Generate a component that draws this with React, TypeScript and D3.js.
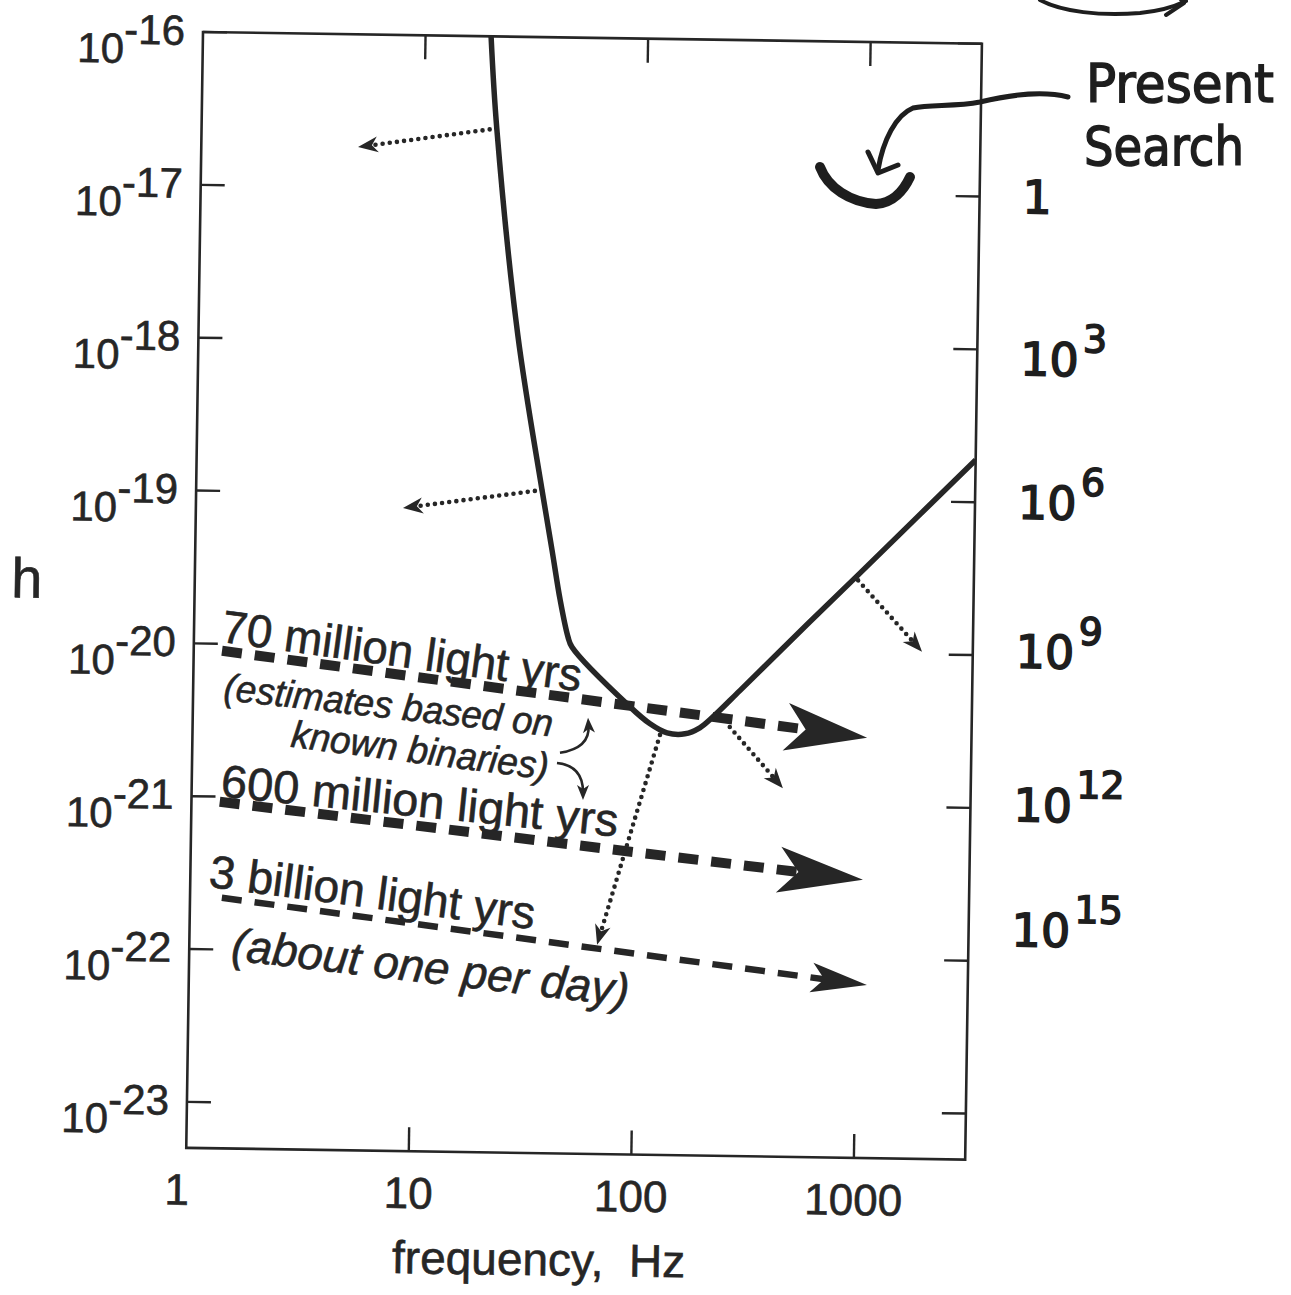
import * as d3 from "d3";
import React from "react";

// page + plot frame (scan is slightly tilted)
const W = 1291;
const H = 1295;
const plotW = 779;
const plotH = 1116;
const originX = 203;
const originY = 32;
const tilt = 0.86;

const xDomain = [1, 3162];
const yDomain = [1e-16, 5e-24];
const xTicks = [1, 10, 100, 1000];
const xTickLabels = ["1", "10", "100", "1000"];
const yTicks = [1e-16, 1e-17, 1e-18, 1e-19, 1e-20, 1e-21, 1e-22, 1e-23];
const yExponents = ["-16", "-17", "-18", "-19", "-20", "-21", "-22", "-23"];

// detector sensitivity curve
const noiseFreq = [19.7, 21.2, 27.2, 35.8, 40.1, 43.9, 47.9, 50, 92, 113.5, 135.5, 163, 190, 215, 286, 522, 955, 1738, 3162];
const noiseH = [1e-16, 2.5e-17, 1.12e-18, 1.09e-19, 4.4e-20, 2.1e-20, 1.2e-20, 1.03e-20, 4.24e-21, 3.3e-21, 2.89e-21, 2.86e-21, 3.14e-21, 3.66e-21, 5.55e-21, 1.35e-20, 3.26e-20, 7.85e-20, 1.89e-19];

// dashed source bands
const bandStartF = [1.34, 1.34, 1.39];
const bandStartH = [9.0e-21, 9.25e-22, 2.18e-22];
const bandEndF = [1074, 1052, 1114];
const bandEndH = [2.81e-21, 3.3e-22, 6.78e-23];

// dotted arrows
const dotFromF = [21.2, 35.8, 955, 259, 126];
const dotFromH = [2.5e-17, 1.09e-19, 3.0e-20, 3.2e-21, 2.8e-21];
const dotToF = [5.06, 8.52, 1870, 453, 67.9];
const dotToH = [1.83e-17, 8.05e-20, 1.04e-20, 1.29e-21, 1.17e-22];

// little curved arrows near "binaries)"
const hookF = [[44.9, 61.2, 59.7], [43.6, 57.1, 57.4]];
const hookH = [[2.09e-21, 2.26e-21, 3.56e-21], [1.79e-21, 1.73e-21, 1.03e-21]];

// printed notes
const noteText = ["70 million light yrs", "(estimates based on", "known binaries)", "600 million light yrs", "3 billion light yrs", "(about one per day)"];
const noteF = [1.31, 1.36, 2.75, 1.34, 1.2, 1.53];
const noteH = [1.03e-20, 4.3e-21, 2.15e-21, 1.0e-21, 2.57e-22, 8.57e-23];

// handwritten rate factors on the right
const rateBase = ["1", "10", "10", "10", "10", "10"];
const rateSup = ["", "3", "6", "9", "12", "15"];
const rateH = [1e-17, 8.7e-19, 1e-19, 1.06e-20, 1.05e-21, 1.6e-22];

const ink = "#262626";
const font = "'Liberation Sans', Arial, Helvetica, sans-serif";
const hand = "'DejaVu Sans', sans-serif";

type P = [number, number];

function headPath(tip: P, from: P, len: number, half: number, notch: number) {
  const a = Math.atan2(tip[1] - from[1], tip[0] - from[0]);
  const ux = Math.cos(a), uy = Math.sin(a);
  const px = -uy, py = ux;
  const bx = tip[0] - ux * len, by = tip[1] - uy * len;
  const nx = tip[0] - ux * (len - notch), ny = tip[1] - uy * (len - notch);
  return `M${tip[0]},${tip[1]}L${bx + px * half},${by + py * half}L${nx},${ny}L${bx - px * half},${by - py * half}Z`;
}

function backOff(tip: P, from: P, d: number): P {
  const a = Math.atan2(tip[1] - from[1], tip[0] - from[0]);
  return [tip[0] - Math.cos(a) * d, tip[1] - Math.sin(a) * d];
}

const App: React.FC = () => {
  const x = d3.scaleLog().domain(xDomain).range([0, plotW]);
  const y = d3.scaleLog().domain(yDomain).range([0, plotH]);

  const curve = d3
    .line<number>()
    .x((d) => x(noiseFreq[d]))
    .y((d) => y(noiseH[d]))
    .curve(d3.curveCatmullRom.alpha(0.5))(noiseFreq.map((_, i) => i));

  const bandW = [10, 10, 6.5];
  const bandHead = [
    { len: 82, half: 24, notch: 20 },
    { len: 85, half: 23, notch: 20 },
    { len: 56, half: 15, notch: 13 },
  ];

  const noteStyle = [
    { size: 46, italic: false, len: 363, rot: 7.0 },
    { size: 38, italic: true, len: 331, rot: 5.5 },
    { size: 38, italic: true, len: 259, rot: 6.4 },
    { size: 46, italic: false, len: 399, rot: 4.9 },
    { size: 46, italic: false, len: 328, rot: 6.6 },
    { size: 46, italic: true, len: 400, rot: 5.8 },
  ];

  return (
    <svg width={W} height={H} style={{ position: "absolute", left: 0, top: 0, background: "#fff" }}>
      <defs>
        <clipPath id="plot">
          <rect x={0} y={0} width={plotW} height={plotH} />
        </clipPath>
      </defs>
      <g transform={`translate(${originX},${originY}) rotate(${tilt})`} fill={ink}>
        {/* frame */}
        <rect x={0} y={0} width={plotW} height={plotH} fill="none" stroke={ink} strokeWidth={2.6} />
        {yTicks.map((t, i) => (
          <g key={"yt" + i}>
            <line x1={0} x2={24} y1={y(t)} y2={y(t)} stroke={ink} strokeWidth={2.4} />
            <line x1={plotW} x2={plotW - 24} y1={y(t)} y2={y(t)} stroke={ink} strokeWidth={2.4} />
            <text x={-18} y={y(t) + 32} textAnchor="end" fontFamily={font} fontSize={42} fill={ink} stroke={ink} strokeWidth={0.6}>
              10<tspan dy={-19}>{yExponents[i]}</tspan>
            </text>
          </g>
        ))}
        {xTicks.map((t, i) => (
          <g key={"xt" + i}>
            {i > 0 && (
              <>
                <line x1={x(t)} x2={x(t)} y1={0} y2={24} stroke={ink} strokeWidth={2.4} />
                <line x1={x(t)} x2={x(t)} y1={plotH} y2={plotH - 24} stroke={ink} strokeWidth={2.4} />
              </>
            )}
            <text x={x(t) - (i === 0 ? 9 : 0)} y={plotH + 57} textAnchor="middle" fontFamily={font} fontSize={44} fill={ink} stroke={ink} strokeWidth={0.6}>
              {xTickLabels[i]}
            </text>
          </g>
        ))}
        <text x={354} y={plotH + 122} textAnchor="middle" fontFamily={font} fontSize={46} fill={ink} stroke={ink} strokeWidth={0.6} style={{ whiteSpace: "pre" }}>
          {"frequency,  Hz"}
        </text>
        <text x={-168} y={568} textAnchor="middle" fontFamily={font} fontSize={56} fill={ink} stroke={ink} strokeWidth={0.6}>
          h
        </text>

        {/* sensitivity curve */}
        <path d={curve || ""} fill="none" stroke={ink} strokeWidth={5.5} strokeLinejoin="round" clipPath="url(#plot)" />

        {/* dashed bands */}
        {bandStartF.map((_, i) => {
          const a: P = [x(bandStartF[i]), y(bandStartH[i])];
          const b: P = [x(bandEndF[i]), y(bandEndH[i])];
          const e = backOff(b, a, bandHead[i].len * 0.7);
          return (
            <g key={"band" + i}>
              <line x1={a[0]} y1={a[1]} x2={e[0]} y2={e[1]} stroke={ink} strokeWidth={bandW[i]} strokeDasharray="20 13" />
              <path d={headPath(b, a, bandHead[i].len, bandHead[i].half, bandHead[i].notch)} fill={ink} />
            </g>
          );
        })}

        {/* dotted arrows */}
        {dotFromF.map((_, i) => {
          const a: P = [x(dotFromF[i]), y(dotFromH[i])];
          const b: P = [x(dotToF[i]), y(dotToH[i])];
          const e = backOff(b, a, 12);
          return (
            <g key={"dot" + i}>
              <line x1={a[0]} y1={a[1]} x2={e[0]} y2={e[1]} stroke={ink} strokeWidth={4.6} strokeDasharray="0 7.2" strokeLinecap="round" />
              <path d={headPath(b, a, 20, 8, 6)} fill={ink} />
            </g>
          );
        })}

        {/* curved hooks */}
        {hookF.map((fs, i) => {
          const pts: P[] = fs.map((f, j) => [x(f), y(hookH[i][j])]);
          const e = backOff(pts[2], pts[1], 8);
          return (
            <g key={"hook" + i}>
              <path d={`M${pts[0][0]},${pts[0][1]}Q${pts[1][0]},${pts[1][1]} ${e[0]},${e[1]}`} fill="none" stroke={ink} strokeWidth={2.6} />
              <path d={headPath(pts[2], pts[1], 15, 6, 4)} fill={ink} />
            </g>
          );
        })}

        {/* printed notes */}
        {noteText.map((t, i) => {
          const px = x(noteF[i]);
          const py = y(noteH[i]);
          const s = noteStyle[i];
          return (
            <text
              key={"note" + i}
              x={px}
              y={py}
              transform={`rotate(${s.rot},${px},${py})`}
              fontFamily={font}
              fontSize={s.size}
              fontStyle={s.italic ? "italic" : "normal"}
              textLength={s.len}
              lengthAdjust="spacingAndGlyphs"
              fill={ink}
              stroke={ink}
              strokeWidth={0.6}
            >
              {t}
            </text>
          );
        })}

        {/* handwritten rate factors */}
        {rateBase.map((b, i) => (
          <text
            key={"rate" + i}
            x={plotW + 43}
            y={y(rateH[i]) + 16}
            fontFamily={hand}
            fontSize={46}
            fill="#1e1e1e"
            stroke="#1e1e1e"
            strokeWidth={1.6}
          >
            {b}
            {rateSup[i] && (
              <tspan dy={-24} dx={4} fontSize={38}>
                {rateSup[i]}
              </tspan>
            )}
          </text>
        ))}
      </g>

      {/* handwritten annotation */}
      <g fill="none" stroke="#1e1e1e" strokeLinecap="round" strokeLinejoin="round">
        <path d="M1040,0 C1062,12 1100,16 1140,13 C1160,11 1174,7 1186,1" strokeWidth={4} />
        <path d="M1166,15 L1184,3 L1178,-4" strokeWidth={4} />
        <path d="M1068,97 C1040,90 1005,96 980,102 C955,107 930,104 913,108 C896,115 883,140 878,170" strokeWidth={5} />
        <path d="M868,152 L878,173 L898,165" strokeWidth={5} />
        <path d="M820,167 C828,188 850,202 876,204 C893,203 904,190 910,177" strokeWidth={10} />
      </g>
      <text x={1086} y={102} fontFamily={hand} fontSize={54} fill="#1e1e1e" stroke="#1e1e1e" strokeWidth={1.5} textLength={188} lengthAdjust="spacingAndGlyphs">
        Present
      </text>
      <text x={1084} y={165} fontFamily={hand} fontSize={54} fill="#1e1e1e" stroke="#1e1e1e" strokeWidth={1.5} textLength={160} lengthAdjust="spacingAndGlyphs">
        Search
      </text>
    </svg>
  );
};

export default App;
